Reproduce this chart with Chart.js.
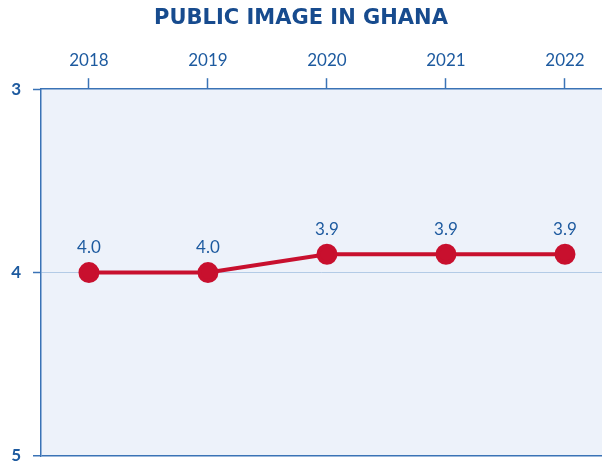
<!DOCTYPE html>
<html><head><meta charset="utf-8">
<script src="https://cdn.jsdelivr.net/npm/chart.js@4/dist/chart.umd.min.js"></script>
<style>html,body{margin:0;padding:0;background:#fff;}#wrap{width:602px;height:464px;}</style>
</head><body><div id="wrap"><canvas id="c" width="602" height="464"></canvas></div>
<script>
const years = [2018, 2019, 2020, 2021, 2022];
const scores = [4.0, 4.0, 3.9, 3.9, 3.9];
const scoreLabels = ['4.0', '4.0', '3.9', '3.9', '3.9'];
const yTicks = [3, 4, 5];

const blueText = '#1d5a9f';
const axisBlue = '#3a73b6';

const bgPlugin = {
  id: 'plotBg',
  beforeDraw(chart) {
    const a = chart.chartArea, ctx = chart.ctx;
    ctx.save();
    ctx.fillStyle = '#edf2fa';
    ctx.fillRect(a.left, a.top, a.right - a.left, a.bottom - a.top);
    ctx.restore();
  }
};
const labelPlugin = {
  id: 'valLabels',
  afterDatasetsDraw(chart) {
    const ctx = chart.ctx;
    const meta = chart.getDatasetMeta(0);
    ctx.save();
    ctx.fillStyle = blueText;
    ctx.font = '17px Lato';
    ctx.textAlign = 'center';
    ctx.textBaseline = 'middle';
    meta.data.forEach((pt, i) => {
      ctx.fillText(scoreLabels[i], pt.x, pt.y - 25);
    });
    ctx.restore();
  }
};

new Chart(document.getElementById('c'), {
  type: 'line',
  data: {
    datasets: [{
      data: years.map((y, i) => ({x: y, y: scores[i]})),
      borderColor: '#c8102e',
      backgroundColor: '#c8102e',
      borderWidth: 4,
      pointRadius: 8.5,
      pointHoverRadius: 8.5,
      tension: 0,
      clip: false
    }]
  },
  options: {
    responsive: false,
    animation: false,
    layout: {autoPadding: false, padding: {left: 0, right: 0, top: 0, bottom: 8}},
    plugins: {
      legend: {display: false},
      tooltip: {enabled: false},
      title: {
        display: true,
        text: 'PUBLIC IMAGE IN GHANA',
        color: '#174b8e',
        font: {family: 'DejaVu Sans', size: 21, weight: 'bold'},
        padding: {top: 6, bottom: 0}
      }
    },
    scales: {
      x: {
        type: 'linear',
        position: 'top',
        min: 2017.597,
        max: 2022.311,
        afterBuildTicks(scale) { scale.ticks = years.map(v => ({value: v})); },
        afterFit(scale) { scale.height = 58; scale.paddingLeft = 0; scale.paddingRight = 0; },
        ticks: {
          color: blueText,
          font: {family: 'Lato', size: 17},
          padding: 7,
          maxRotation: 0,
          callback: (v) => String(v)
        },
        grid: {
          drawOnChartArea: false,
          drawTicks: true,
          tickLength: 11,
          tickColor: axisBlue,
          tickWidth: 1.5
        },
        border: {display: true, color: axisBlue, width: 1.5}
      },
      y: {
        type: 'linear',
        reverse: true,
        min: 3,
        max: 5,
        afterBuildTicks(scale) { scale.ticks = yTicks.map(v => ({value: v})); },
        afterFit(scale) { scale.width = 41; scale.paddingTop = 0; scale.paddingBottom = 0; },
        ticks: {
          color: blueText,
          font: {family: 'Lato', size: 17, weight: 'bold'},
          padding: 12,
          callback: (v) => String(v)
        },
        grid: {
          color: (c) => c.tick && c.tick.value === 4 ? '#b3cbe6' : (c.tick && c.tick.value === 5 ? axisBlue : 'rgba(0,0,0,0)'),
          lineWidth: (c) => c.tick && c.tick.value === 5 ? 1.5 : 1,
          tickColor: axisBlue,
          tickLength: 8,
          tickWidth: 1.5
        },
        border: {display: true, color: axisBlue, width: 1.5}
      }
    }
  },
  plugins: [bgPlugin, labelPlugin]
});
</script>
</body></html>
